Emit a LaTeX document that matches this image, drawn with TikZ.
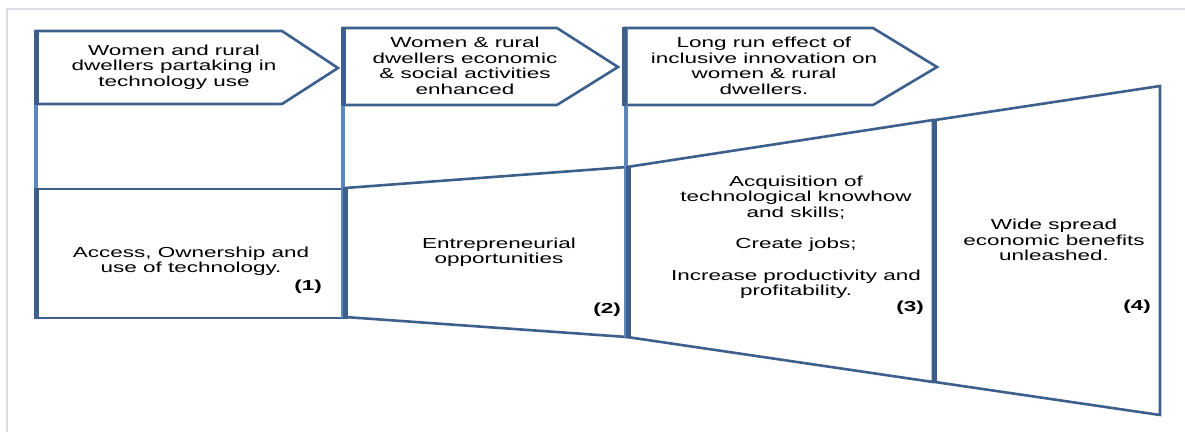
\documentclass[tikz,border=0pt]{standalone}
\usepackage{fontspec}
\newfontfamily\widesans[FakeStretch=1.55]{Liberation Sans}
\usepackage{xcolor}
\definecolor{edgeblue}{HTML}{3C5F8C}
\definecolor{barblue}{HTML}{5B86BE}
\definecolor{framegrey}{HTML}{D8DDE6}

\begin{document}
\begin{tikzpicture}[
    x=1pt, y=-1pt,
    panel/.style={draw=edgeblue, line width=2.6pt, line join=miter},
    bar/.style={draw=barblue, line width=3.5pt},
    barthick/.style={draw=edgeblue, line width=5pt},
    headtext/.style={font=\widesans\fontsize{14.5}{15.5}\selectfont, align=center, inner sep=0pt},
    numtext/.style={font=\widesans\bfseries\fontsize{14.5}{15.5}\selectfont, inner sep=0pt}
]
\useasboundingbox (0,0) rectangle (1185,432);

% Frame
\draw[framegrey, line width=1.2pt] (7,432) -- (7,9) -- (1185,9);

% Top arrows
\draw[panel] (36,31) -- (282,31) -- (338,68) -- (282,104) -- (36,104) -- cycle;
\draw[panel] (343,28) -- (557,28) -- (618,67) -- (557,105) -- (343,105) -- cycle;
\draw[panel] (625,28) -- (873,28) -- (937,67) -- (873,105) -- (625,105) -- cycle;

% Lower boxes
\draw[panel] (36,189) -- (343,189) -- (343,318) -- (36,318) -- cycle;
\draw[panel] (345,188) -- (627,167) -- (627,337) -- (345,317) -- cycle;
\draw[panel] (627,167) -- (933,120) -- (933,382) -- (627,337) -- cycle;
\draw[panel] (935,120) -- (1160,86) -- (1160,415) -- (935,382) -- cycle;

% Bars
\draw[bar] (36,31) -- (36,318);
\draw[bar] (343,28) -- (343,318);
\draw[bar] (626,28) -- (626,337);
\draw[barthick] (36,30) -- (36,105) (36,188) -- (36,319);
\draw[barthick] (343,27) -- (343,106) (345,187) -- (345,319);
\draw[barthick] (624,27) -- (624,106) (628,166) -- (628,338);
\draw[barthick] (934,119) -- (934,383);

% Texts
\node[headtext] (h1) at (174,67) {Women and rural\\dwellers partaking in\\technology use};
\node[headtext] (h2) at (465,66) {Women \& rural\\dwellers economic\\\& social activities\\enhanced};
\node[headtext] (h3) at (764,66) {Long run effect of\\inclusive innovation on\\women \& rural\\dwellers.};

\node[headtext] (b1) at (191,261) {Access, Ownership and\\use of technology.};
\node[headtext] (b2) at (499,252) {Entrepreneurial\\opportunities};
\node[headtext] (b3) at (796,237) {Acquisition of\\technological knowhow\\and skills;\\[16pt]Create jobs;\\[16pt]Increase productivity and\\profitability.};
\node[headtext] (b4) at (1054,240) {Wide spread\\economic benefits\\unleashed.};

\node[numtext] (n1) at (308,287) {(1)};
\node[numtext] (n2) at (607,310) {(2)};
\node[numtext] (n3) at (910,308) {(3)};
\node[numtext] (n4) at (1137,307) {(4)};

\end{tikzpicture}
\end{document}
